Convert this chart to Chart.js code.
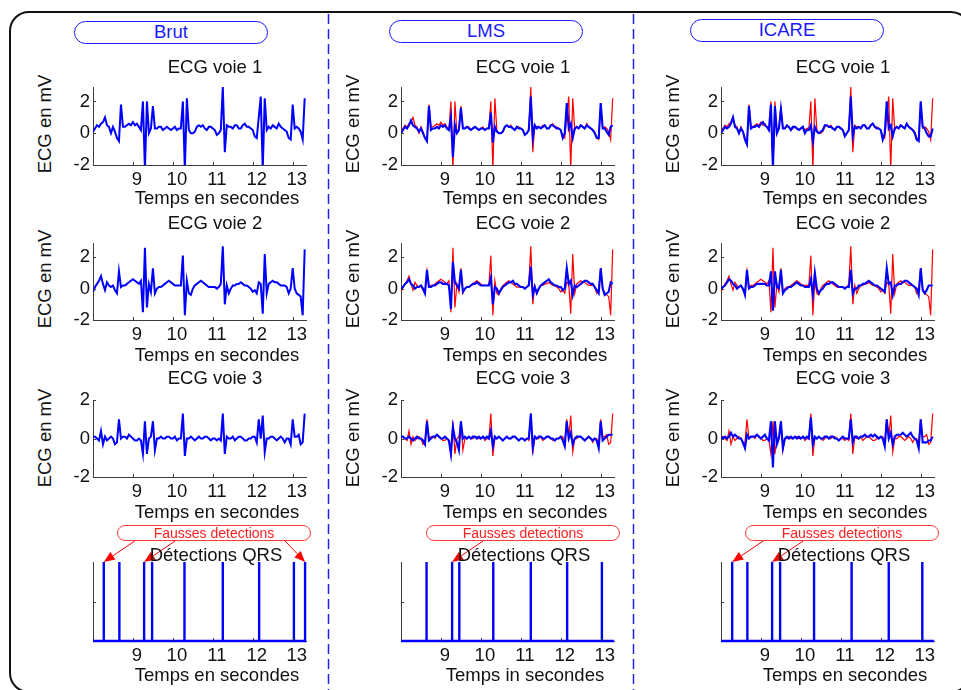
<!DOCTYPE html>
<html>
<head>
<meta charset="utf-8">
<script src="https://cdn.jsdelivr.net/npm/chart.js@4.4.1/dist/chart.umd.min.js"></script>
<style>
  html, body { margin: 0; padding: 0; background: #fff; }
  body {
    width: 961px; height: 690px; position: relative; overflow: hidden;
    font-family: "Liberation Sans", Arial, sans-serif; color: #111;
  }
  .frame {
    position: absolute; left: 9px; top: 11px; width: 962px; height: 682px;
    border: 2px solid #111; border-radius: 20px; box-sizing: border-box;
  }
  canvas { position: absolute; }
  .t {
    position: absolute; transform: translate(-50%, -50%);
    white-space: nowrap; font-size: 18.5px; line-height: 1;
  }
  .yl { transform: translate(-50%, -50%) rotate(-90deg); }
  .pill {
    position: absolute; box-sizing: border-box; border: 1.5px solid #1a1aff;
    border-radius: 12px; color: #1a1aff; font-size: 18.5px; text-align: center;
  }
  .fd {
    position: absolute; box-sizing: border-box; border: 1px solid #ff3a3a;
    border-radius: 8px; color: #ff2020; font-size: 14px; text-align: center;
    line-height: 14px;
  }
  svg.sep { position: absolute; left: 0; top: 0; }
</style>
</head>
<body>
<div class="frame"></div>
<svg class="sep" width="961" height="690">
  <line x1="328.5" y1="14" x2="328.5" y2="690" stroke="#2323e8" stroke-width="1.5" stroke-dasharray="10,5"/>
  <line x1="633.5" y1="14" x2="633.5" y2="690" stroke="#2323e8" stroke-width="1.5" stroke-dasharray="10,5"/>
</svg>
<script>
// time base: one sample every 0.05 s from 8.00 s to 13.30 s
const T_START = 8.0;
const T_STEP = 0.05;
const X_MIN = 8.0;
const X_MAX = 13.333;
const X_TICKS = [9, 10, 11, 12, 13];
const Y_TICKS = [-2, 0, 2];

// raw signals (mV), also drawn in red under the filtered ones
const V1_BRUT = [
  0.1, 0.3, 0.5, 0.4, 0.6, 0.7, 1.0, 0.5, 0.4, 0.0,
  0.4, 0.1, -0.3, -0.5, 1.8, 0.4, 0.4, 0.5, 0.6, 0.5,
  0.7, 0.5, 0.6, 0.4, 0.2, 2.0, -2.3, 2.0, 0.0, 0.3,
  1.7, 0.3, 0.3, 0.4, 0.4, 0.2, 0.3, 0.4, 0.3, 0.2,
  0.3, 0.4, 0.2, 0.3, 0.3, 2.0, -2.3, 2.2, 0.2, 0.0,
  0.0, 0.1, 0.4, 0.5, 0.4, 0.5, 0.3, 0.2, 0.4, 0.4,
  0.3, 0.2, -0.1, 0.0, 0.2, 2.9, -1.2, 0.5, 0.4, 0.4,
  0.3, 0.5, 0.5, 0.3, 0.3, 0.5, 0.6, 0.4, 0.4, 0.3,
  0.2, -0.2, -0.3, 1.0, 2.3, -2.3, 2.2, 0.2, 0.4, 0.3,
  0.5, 0.4, 0.3, 0.6, 0.4, 0.3, 0.2, 0.1, -0.3, -0.4,
  1.8, 0.3, 0.4, 0.3, 0.1, -0.4, 2.2
];
const V2_BRUT = [
  -0.2, 0.1, 0.3, 0.5, 0.8, 0.3, -0.1, 0.4, 0.2, 0.1,
  0.2, -0.1, -0.3, 1.1, 0.1, 0.2, 0.2, 0.3, 0.4, 0.5,
  0.6, 0.5, 0.4, 0.3, 0.5, -1.5, 2.6, -1.2, 0.3, -0.2,
  1.3, -0.3, 0.0, 0.1, 0.1, 0.2, 0.3, 0.4, 0.5, 0.4,
  0.3, 0.2, 0.2, 0.2, 0.2, 2.1, -1.7, 0.5, -0.3, -0.4,
  0.0, 0.2, 0.3, 0.4, 0.5, 0.4, 0.3, 0.2, 0.1, 0.1,
  0.1, 0.1, 0.0, 0.1, 0.3, 2.7, -1.0, 0.2, -0.3, 0.0,
  0.2, 0.2, 0.3, 0.3, 0.4, 0.3, 0.2, 0.2, 0.1, 0.0,
  -0.2, -0.1, -0.3, 0.4, 0.3, -1.6, 2.2, -0.3, 0.3, 0.4,
  0.5, 0.4, 0.4, 0.3, 0.2, 0.2, 0.2, 0.1, -0.3, 0.0,
  1.3, 0.0, -0.3, -0.4, -0.5, -1.7, 2.5
];
const V3_BRUT = [
  0.1, 0.1, 0.0, -0.1, 0.4, -0.3, 0.1, -0.1, 0.0, 0.1,
  0.0, -0.3, -0.2, 1.0, 0.0, 0.1, 0.1, 0.0, 0.2, 0.1,
  0.0, -0.1, -0.1, 0.0, -0.1, -0.8, 0.9, -0.8, 0.0, 0.1,
  0.9, -0.6, 0.0, 0.0, 0.1, 0.0, 0.0, 0.1, 0.1, 0.0,
  0.0, 0.1, -0.1, 0.0, 0.0, 1.3, -0.9, 0.0, 0.0, 0.1,
  0.0, -0.1, 0.0, 0.1, 0.0, 0.0, 0.1, 0.1, 0.0, -0.1,
  0.0, 0.0, -0.1, 0.0, -0.1, 1.3, -0.8, 0.1, 0.0, 0.0,
  0.1, -0.1, 0.0, 0.1, 0.1, 0.0, -0.1, -0.1, 0.0, 0.0,
  0.1, 0.1, -0.2, 1.0, 0.0, 1.2, -0.7, 0.0, 0.0, 0.1,
  0.1, 0.0, -0.1, 0.0, 0.1, 0.0, -0.2, 0.0, 0.0, -0.3,
  1.0, 0.1, 0.1, 0.2, -0.3, -0.2, 1.3
];

// LMS filtered
const V1_LMS = [
  0.0, 0.2, 0.4, 0.3, 0.5, 0.8, 0.5, 0.4, 0.3, 0.1,
  0.3, 0.0, -0.3, -0.5, 1.7, 0.2, 0.3, 0.3, 0.4, 0.3,
  0.5, 0.4, 0.5, 0.3, 0.2, 1.0, -1.5, 0.5, 0.0, 0.2,
  1.6, 0.3, 0.3, 0.4, 0.3, 0.2, 0.3, 0.4, 0.3, 0.2,
  0.3, 0.3, 0.2, 0.3, 0.3, 1.3, -0.6, 0.4, 0.1, 0.0,
  0.0, 0.1, 0.4, 0.5, 0.4, 0.4, 0.3, 0.2, 0.4, 0.3,
  0.3, 0.2, -0.1, 0.0, 0.2, 2.3, -0.3, 0.5, 0.3, 0.4,
  0.3, 0.4, 0.5, 0.3, 0.3, 0.5, 0.5, 0.4, 0.3, 0.3,
  0.2, -0.3, 0.0, 1.9, 0.3, 0.6, -0.3, 0.3, 0.4, 0.3,
  0.5, 0.4, 0.3, 0.5, 0.4, 0.3, 0.2, 0.0, -0.3, -0.3,
  1.9, 0.3, 0.3, 0.1, -0.1, 0.4, 0.5
];
const V2_LMS = [
  0.0, 0.1, 0.3, 0.4, 0.6, 0.3, 0.2, 0.0, 0.1, 0.1,
  0.2, 0.0, -0.3, 1.2, 0.1, 0.1, 0.2, 0.2, 0.3, 0.4,
  0.4, 0.3, 0.3, 0.3, 0.2, -1.3, 1.7, 0.4, 0.2, 0.0,
  1.2, -0.2, 0.0, 0.1, 0.1, 0.2, 0.3, 0.3, 0.4, 0.3,
  0.2, 0.2, 0.2, 0.2, 0.2, 0.7, -1.0, 0.1, 0.0, -0.3,
  -0.1, 0.1, 0.2, 0.3, 0.4, 0.4, 0.5, 0.3, 0.3, 0.2,
  0.1, 0.1, 0.0, 0.1, 0.2, 1.4, -0.4, 0.1, -0.3, 0.0,
  0.2, 0.3, 0.4, 0.5, 0.6, 0.4, 0.3, 0.2, 0.2, 0.1,
  0.1, -0.1, 0.0, 1.3, 0.3, 0.5, -0.4, 0.2, 0.1, 0.2,
  0.3, 0.4, 0.5, 0.5, 0.4, 0.3, 0.3, 0.1, -0.1, -0.3,
  1.3, 0.0, -0.4, -0.3, -0.2, 0.4, 0.3
];
const V3_LMS = [
  0.1, 0.1, 0.0, 0.0, 0.1, 0.0, -0.1, 0.0, 0.1, 0.0,
  0.0, -0.1, -0.3, 0.9, -0.1, 0.0, 0.1, 0.1, 0.2, 0.1,
  0.0, 0.0, 0.1, 0.0, -0.1, -0.8, 0.6, 0.0, -0.2, -0.6,
  0.9, 0.0, 0.1, 0.0, 0.1, 0.0, 0.1, 0.1, 0.0, 0.1,
  0.0, 0.1, 0.0, 0.1, 0.0, 0.4, -0.4, 0.1, 0.0, 0.1,
  0.0, -0.1, 0.0, 0.1, 0.0, 0.0, 0.1, 0.1, 0.0, -0.1,
  0.0, 0.0, -0.1, 0.0, 0.0, 1.3, -0.5, 0.1, 0.0, 0.1,
  0.1, 0.0, 0.0, 0.1, 0.1, 0.0, 0.0, -0.1, 0.0, 0.0,
  0.1, -0.1, -0.4, 0.9, 0.0, 0.3, -0.3, 0.0, 0.1, 0.1,
  0.1, 0.0, -0.1, 0.0, 0.1, 0.0, -0.1, 0.0, -0.1, -0.5,
  0.9, -0.1, 0.0, 0.1, 0.2, 0.2, 0.2
];

// ICARE filtered
const V1_ICARE = [
  0.0, 0.2, 0.4, 0.3, 0.4, 0.6, 1.0, 0.4, 0.3, 0.0,
  0.3, 0.1, -0.4, -0.7, 1.7, 0.3, 0.4, 0.4, 0.5, 0.4,
  0.6, 0.7, 0.5, 0.4, 0.2, 1.8, -2.2, 1.7, 0.0, 0.3,
  1.5, 0.3, 0.3, 0.5, 0.4, 0.2, 0.4, 0.4, 0.3, 0.2,
  0.3, 0.4, 0.0, 0.2, 0.2, 0.5, -0.5, 0.4, 0.1, 0.0,
  0.1, 0.2, 0.5, 0.5, 0.4, 0.4, 0.3, 0.2, 0.4, 0.4,
  0.3, 0.2, -0.2, 0.0, 0.2, 2.3, -0.2, 0.4, 0.3, 0.4,
  0.3, 0.5, 0.5, 0.3, 0.3, 0.5, 0.6, 0.4, 0.3, 0.3,
  0.2, -0.4, 0.0, 2.0, 0.3, 0.5, -0.2, 0.3, 0.4, 0.3,
  0.5, 0.4, 0.3, 0.6, 0.4, 0.3, 0.2, 0.0, -0.4, -0.5,
  2.0, 0.4, 0.3, 0.0, -0.2, -0.2, 0.3
];
const V2_ICARE = [
  0.0, 0.1, 0.2, 0.4, 0.6, 0.5, 0.3, 0.2, 0.0, 0.1,
  0.2, 0.0, -0.4, 1.2, 0.0, 0.1, 0.1, 0.2, 0.3, 0.3,
  0.3, 0.3, 0.3, 0.2, 0.2, 1.1, -1.4, 1.1, 0.1, 0.0,
  1.2, -0.3, -0.1, 0.0, 0.1, 0.1, 0.2, 0.3, 0.4, 0.3,
  0.2, 0.2, 0.1, 0.1, 0.1, 0.6, -0.4, 1.0, 0.0, -0.3,
  -0.1, 0.0, 0.2, 0.3, 0.3, 0.4, 0.4, 0.3, 0.2, 0.1,
  0.1, 0.1, 0.0, 0.1, 0.1, 1.2, -0.3, 0.0, 0.0, 0.2,
  0.2, 0.3, 0.3, 0.4, 0.5, 0.4, 0.3, 0.2, 0.2, 0.1,
  0.0, -0.1, -0.2, 1.3, 0.3, 0.4, -0.4, 0.2, 0.2, 0.3,
  0.3, 0.4, 0.5, 0.5, 0.4, 0.3, 0.2, 0.1, 0.0, -0.4,
  1.3, -0.1, -0.3, -0.1, 0.2, 0.2, 0.2
];
const V3_ICARE = [
  0.1, 0.0, 0.1, 0.0, 0.1, 0.3, 0.1, 0.2, 0.1, 0.0,
  0.0, -0.2, -0.5, 0.2, 0.0, 0.1, 0.1, 0.1, 0.2, 0.1,
  0.0, 0.1, 0.2, 0.0, -0.1, 0.9, -1.5, 0.9, -0.3, 0.0,
  0.9, -0.5, 0.0, 0.1, 0.0, 0.1, 0.0, 0.1, 0.0, 0.1,
  0.0, 0.1, 0.0, 0.1, 0.0, 1.1, -0.3, 0.1, 0.0, 0.1,
  0.0, 0.0, 0.1, 0.1, 0.0, 0.1, 0.1, 0.0, 0.0, -0.1,
  0.0, 0.1, 0.0, 0.0, 0.0, 1.0, -0.2, 0.1, 0.1, 0.0,
  0.1, 0.1, 0.2, 0.1, 0.1, 0.2, 0.1, 0.2, 0.1, 0.0,
  0.1, 0.0, -0.4, 1.0, 0.0, 0.3, -0.3, 0.1, 0.2, 0.2,
  0.2, 0.3, 0.2, 0.1, 0.2, 0.3, 0.1, 0.0, -0.1, -0.5,
  1.0, -0.2, -0.2, -0.2, -0.1, -0.1, 0.1
];

// QRS detection instants (s) and the false ones among them
const QRS_BRUT = [8.27, 8.66, 9.28, 9.48, 10.29, 11.25, 12.16, 13.03, 13.31];
const QRS_LMS = [8.64, 9.28, 9.46, 10.31, 11.25, 12.16, 13.03];
const QRS_ICARE = [8.28, 8.66, 9.28, 9.48, 10.33, 11.27, 12.2, 13.04];
const FAUSSES_BRUT = [8.27, 9.28, 13.31];
const FAUSSES_LMS = [9.28];
const FAUSSES_ICARE = [8.28, 9.28];

const FONT = '"Liberation Sans", Arial, sans-serif';
const BLUE = "#0000ff";
const RED = "#ff0000";
const AXIS = "#3c3c3c";
const PLOT_W = 213;

const COLS = [
  { name: "Brut", left: 93, pill: [74, 21, 194, 23], fd: 117,
    blue: [V1_BRUT, V2_BRUT, V3_BRUT], red: null,
    qrs: QRS_BRUT, fausses: FAUSSES_BRUT, xlab4: "Temps en secondes" },
  { name: "LMS", left: 401, pill: [389, 20, 194, 23], fd: 426,
    blue: [V1_LMS, V2_LMS, V3_LMS], red: [V1_BRUT, V2_BRUT, V3_BRUT],
    qrs: QRS_LMS, fausses: FAUSSES_LMS, xlab4: "Temps in secondes" },
  { name: "ICARE", left: 721, pill: [690, 19, 194, 23], fd: 745,
    blue: [V1_ICARE, V2_ICARE, V3_ICARE], red: [V1_BRUT, V2_BRUT, V3_BRUT],
    qrs: QRS_ICARE, fausses: FAUSSES_ICARE, xlab4: "Temps en secondes" },
];
const ROWS = [
  { top: 85, h: 80, max: 2.9, title: "ECG voie 1", ty: 67, xy: 198, yy: 124 },
  { top: 241, h: 79, max: 2.9, title: "ECG voie 2", ty: 223, xy: 355, yy: 279 },
  { top: 398, h: 79, max: 2, title: "ECG voie 3", ty: 378, xy: 512, yy: 438 },
];

function series(values) {
  return values.map((v, i) => ({ x: +(T_START + i * T_STEP).toFixed(2), y: v }));
}

function qrsSeries(times) {
  const pts = [{ x: X_MIN, y: 0 }];
  times.forEach((t) => pts.push({ x: t, y: 0 }, { x: t, y: 1 }, { x: t, y: 0 }));
  pts.push({ x: X_MAX, y: 0 });
  return pts;
}

// matlab-like tick marks pointing into the axes
const innerTicks = {
  id: "innerTicks",
  afterDraw(chart) {
    const { ctx, chartArea: a, scales } = chart;
    ctx.save();
    ctx.strokeStyle = AXIS;
    ctx.lineWidth = 1;
    ctx.beginPath();
    scales.x.ticks.forEach((t) => {
      const px = Math.round(scales.x.getPixelForValue(t.value)) + 0.5;
      ctx.moveTo(px, a.bottom);
      ctx.lineTo(px, a.bottom - 3);
    });
    scales.y.ticks.forEach((t) => {
      const py = Math.round(scales.y.getPixelForValue(t.value)) + 0.5;
      ctx.moveTo(a.left, py);
      ctx.lineTo(a.left + 3, py);
    });
    ctx.stroke();
    ctx.restore();
  },
};

// red arrows from the "Fausses detections" label to the false detections
const arrows = {
  id: "arrows",
  afterDraw(chart, args, opts) {
    if (!opts.times) return;
    const { ctx, chartArea: a, scales } = chart;
    ctx.save();
    ctx.strokeStyle = RED;
    ctx.fillStyle = RED;
    ctx.lineWidth = 1;
    opts.times.forEach((t) => {
      const tx = scales.x.getPixelForValue(t);
      const ty = a.top;
      const sx = tx + (t > 13 ? -20 : 31);
      const sy = opts.startY;
      const ang = Math.atan2(ty - sy, tx - sx);
      const len = 11, half = 4.5;
      const bx = tx - len * Math.cos(ang), by = ty - len * Math.sin(ang);
      ctx.beginPath();
      ctx.moveTo(sx, sy);
      ctx.lineTo(bx, by);
      ctx.stroke();
      ctx.beginPath();
      ctx.moveTo(tx, ty);
      ctx.lineTo(bx + half * Math.sin(ang), by - half * Math.cos(ang));
      ctx.lineTo(bx - half * Math.sin(ang), by + half * Math.cos(ang));
      ctx.closePath();
      ctx.fill();
    });
    ctx.restore();
  },
};

function scalesFor(ymin, ymax, yticks, yLabels) {
  return {
    x: {
      type: "linear", min: X_MIN, max: X_MAX,
      grid: { display: false, drawTicks: false },
      border: { display: true, color: AXIS, width: 1 },
      ticks: { font: { size: 18.5, family: FONT }, color: "#111", padding: 4,
               labelOffset: 4, maxRotation: 0, autoSkip: false },
      afterBuildTicks: (s) => { s.ticks = X_TICKS.map((v) => ({ value: v })); },
      afterFit: (s) => { s.height = 28; },
    },
    y: {
      type: "linear", min: ymin, max: ymax,
      grid: { display: false, drawTicks: false },
      border: { display: true, color: AXIS, width: 1 },
      ticks: { font: { size: 18.5, family: FONT }, color: "#111", padding: 3,
               callback: (v) => (yLabels ? String(v) : "") },
      afterBuildTicks: (s) => { s.ticks = yticks.map((v) => ({ value: v })); },
      afterFit: (s) => { s.width = 36; },
    },
  };
}

function makeCanvas(left, top, w, h) {
  const c = document.createElement("canvas");
  c.width = w;
  c.height = h;
  c.style.left = left + "px";
  c.style.top = top + "px";
  c.style.width = w + "px";
  c.style.height = h + "px";
  document.body.appendChild(c);
  return c;
}

function text(str, cx, cy, cls, extra) {
  const d = document.createElement("div");
  d.className = cls || "t";
  d.textContent = str;
  d.style.left = cx + "px";
  d.style.top = cy + "px";
  if (extra) Object.assign(d.style, extra);
  document.body.appendChild(d);
  return d;
}

const common = {
  animation: false,
  responsive: false,
  devicePixelRatio: 1,
  events: [],
};

COLS.forEach((col) => {
  ROWS.forEach((row, r) => {
    const cv = makeCanvas(col.left - 36, row.top - 12, 36 + PLOT_W + 10, 12 + row.h + 28);
    const datasets = [{
      data: series(col.blue[r]), borderColor: BLUE,
      borderWidth: col.red ? 2.1 : 2.0, pointRadius: 0, tension: 0,
    }];
    if (col.red) {
      datasets.push({
        data: series(col.red[r]), borderColor: RED,
        borderWidth: 1.2, pointRadius: 0, tension: 0,
      });
    }
    new Chart(cv, {
      type: "line",
      data: { datasets },
      options: {
        ...common,
        layout: { padding: { top: 12, right: 10, left: 0, bottom: 0 } },
        scales: scalesFor(-2, row.max, Y_TICKS, true),
        plugins: { legend: { display: false }, tooltip: { enabled: false } },
      },
      plugins: [innerTicks],
    });
  });

  // QRS detections
  const top4 = 520;
  const cv4 = makeCanvas(col.left - 36, top4, 36 + PLOT_W + 10, 42 + 79 + 28);
  new Chart(cv4, {
    type: "line",
    data: {
      datasets: [{
        data: qrsSeries(col.qrs), borderColor: BLUE, borderWidth: 2.4,
        pointRadius: 0, tension: 0, clip: false,
      }],
    },
    options: {
      ...common,
      layout: { padding: { top: 42, right: 10, left: 0, bottom: 0 } },
      scales: scalesFor(0, 1, [0.5], false),
      plugins: {
        legend: { display: false }, tooltip: { enabled: false },
        arrows: { times: col.fausses, startY: 541 - top4 },
      },
    },
    plugins: [innerTicks, arrows],
  });
});

// texts
COLS.forEach((col) => {
  const [pl, pt, pw, ph] = col.pill;
  const p = document.createElement("div");
  p.className = "pill";
  p.textContent = col.name;
  Object.assign(p.style, { left: pl + "px", top: pt + "px", width: pw + "px",
                           height: ph + "px", lineHeight: (ph - 3) + "px" });
  document.body.appendChild(p);

  ROWS.forEach((row) => {
    text(row.title, col.left + 122, row.ty);
    text("Temps en secondes", col.left + 124, row.xy);
    text("ECG en mV", col.left - 48, row.yy, "t yl");
  });

  const f = document.createElement("div");
  f.className = "fd";
  f.textContent = "Fausses detections";
  Object.assign(f.style, { left: col.fd + "px", top: "525px", width: "194px", height: "16px" });
  document.body.appendChild(f);

  text("Détections QRS", col.left + 123, 555);
  text(col.xlab4, col.left + 124, 675);
});
</script>
</body>
</html>
